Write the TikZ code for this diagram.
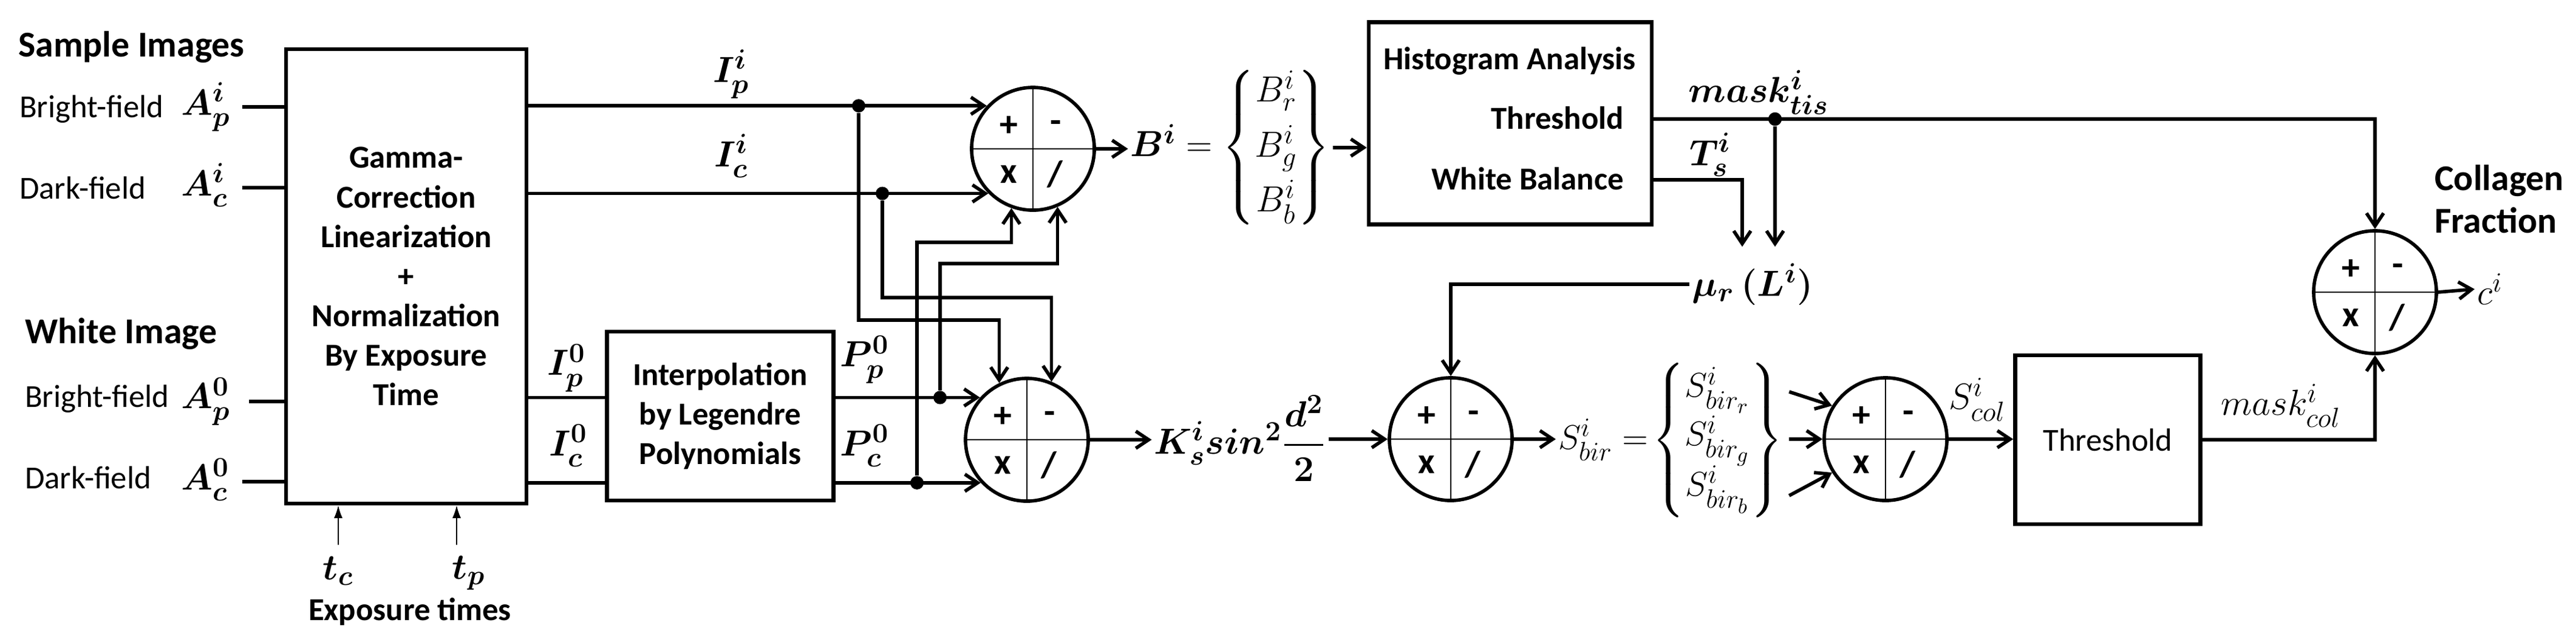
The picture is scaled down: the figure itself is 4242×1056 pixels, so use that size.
\RequirePackage{fix-cm}
\documentclass[tikz,border=0pt]{standalone}
\usepackage{amsmath}
\usepackage{fontspec}
\setmainfont{Carlito}
\DeclareMathSizes{17}{17}{13}{10}
\DeclareMathSizes{16}{16}{12.5}{10}
\usetikzlibrary{arrows.meta,calc}
\newcommand{\opcirc}[2]{%
  \node[opc] (#1) at (#2) {};
  \draw[divl] (#1.north) -- (#1.south) (#1.west) -- (#1.east);
  \node[opl] (#1p) at ([shift={(-40,-37)}]#1) {+};
  \node[opl] (#1m) at ([shift={(38,-37)}]#1) {-};
  \node[opl] (#1x) at ([shift={(-40,42)}]#1) {x};
  \node[opl] (#1d) at ([shift={(36,42)}]#1) {/};
}
\begin{document}
\begin{tikzpicture}[x=0.01cm,y=-0.01cm,
  box/.style={draw, line width=1.8pt, inner sep=0pt, align=center,
    font=\fontsize{15}{18.5}\selectfont\bfseries},
  opc/.style={circle, draw, line width=1.6pt, minimum size=2.02cm, inner sep=0pt},
  divl/.style={line width=0.5pt},
  opl/.style={inner sep=0pt, font=\fontsize{17}{17}\selectfont\bfseries},
  ln/.style={line width=1.6pt},
  arr/.style={ln, -{Straight Barb[length=6pt,width=8pt]}},
  tarr/.style={line width=0.6pt, -{Latex[length=6pt,width=4pt]}},
  dotn/.style={circle, fill, inner sep=0pt, minimum size=0.22cm},
  lbl/.style={inner sep=1pt, font=\fontsize{15}{18}\selectfont},
  blbl/.style={inner sep=1pt, font=\fontsize{15}{18}\selectfont\bfseries},
  ttl/.style={inner sep=1pt, font=\fontsize{17}{20}\selectfont\bfseries},
  mth/.style={inner sep=1pt, font=\fontsize{17}{20}\selectfont\boldmath},
  mthr/.style={inner sep=1pt, font=\fontsize{17}{20}\selectfont}
]
\useasboundingbox (0,0) rectangle (4242,1056);

% left labels
\node[ttl, anchor=west] (si) at (26,78) {Sample Images};
\node[lbl, anchor=west] (bf1) at (28,180) {Bright-field};
\node[mth, anchor=west] (ap1) at (294,176) {$A_p^i$};
\node[lbl, anchor=west] (df1) at (28,309) {Dark-field};
\node[mth, anchor=west] (ac1) at (294,305) {$A_c^i$};
\node[ttl, anchor=west] (wi) at (37,550) {White Image};
\node[lbl, anchor=west] (bf0) at (37,657) {Bright-field};
\node[mth, anchor=west] (ap0) at (294,661) {$A_p^0$};
\node[lbl, anchor=west] (df0) at (37,786) {Dark-field};
\node[mth, anchor=west] (ac0) at (294,790) {$A_c^0$};

% main box
\node[box, minimum width=3.96cm, minimum height=7.47cm] (gam) at (669,455)
  {Gamma-\\Correction\\Linearization\\+\\Normalization\\By Exposure\\Time};

\coordinate (in1) at (399,176);
\coordinate (in2) at (399,309);
\coordinate (in3) at (410,661);
\coordinate (in4) at (399,793);
\draw[ln] (in1) -- (in1 -| gam.west);
\draw[ln] (in2) -- (in2 -| gam.west);
\draw[ln] (in3) -- (in3 -| gam.west);
\draw[ln] (in4) -- (in4 -| gam.west);

% exposure times
\node[mth] (tc) at (557,940) {$t_c$};
\node[mth] (tp) at (772,943) {$t_p$};
\node[blbl] (et) at (675,1007) {Exposure times};
\coordinate (tcs) at (557,897);
\coordinate (tps) at (752,897);
\draw[tarr] (tcs) -- (tcs |- gam.south);
\draw[tarr] (tps) -- (tps |- gam.south);

% operator circles
\opcirc{c1}{1701,245}
\opcirc{c2}{1691,724}
\opcirc{c3}{2389,723}
\opcirc{c4}{3105,723}
\opcirc{c5}{3911,481}

% interpolation box
\node[box, minimum width=3.73cm, minimum height=2.78cm] (itp) at (1186,685)
  {Interpolation\\by Legendre\\Polynomials};

% I lines
\draw[arr] (gam.east |- c1.137) -- (c1.137);
\draw[arr] (gam.east |- c1.-135) -- (c1.-135);
\node[mth] (lip) at (1204,122) {$I_p^i$};
\node[mth] (lic) at (1204,257) {$I_c^i$};
\draw[ln] (gam.east |- c2.138) -- (itp.west |- c2.138);
\draw[ln] (gam.east |- c2.-137) -- (itp.west |- c2.-137);
\node[mth] (lip0) at (933,606) {$I_p^0$};
\node[mth] (lic0) at (936,734) {$I_c^0$};
\draw[arr] (itp.east |- c2.138) -- (c2.138);
\draw[arr] (itp.east |- c2.-137) -- (c2.-137);
\node[mth] (lpp0) at (1424,592) {$P_p^0$};
\node[mth] (lpc0) at (1424,734) {$P_c^0$};

% junction dots
\node[dotn] (d1) at (1414,0 |- c1.137) {};
\node[dotn] (d2) at (1453,0 |- c1.-135) {};
\node[dotn] (d3) at (1548,0 |- c2.138) {};
\node[dotn] (d4) at (1510,0 |- c2.-137) {};
\draw[arr] (d1) -- (1414,527) -| (c2.116);
\draw[arr] (d2) -- (1453,490) -| (c2.67);
\draw[arr] (d3) -- (1548,434) -| (c1.-67);
\draw[arr] (d4) -- (1510,399) -| (c1.-110);

% B node and histogram box
\node[mthr] (bn) at (2026,243)
  {$\boldsymbol{B^i} = \left\{\begin{matrix}B_r^i\\[5pt]B_g^i\\[5pt]B_b^i\end{matrix}\right\}$};
\draw[arr] (c1.east) -- (bn.west |- c1.east);
\node[box, minimum width=4.66cm, minimum height=3.33cm] (hist) at (2487,203) {};
\draw[arr] (bn.east) -- (hist.west |- bn.east);
\node[blbl] (h1) at (2486,100) {Histogram Analysis};
\node[blbl, anchor=east] (h2) at (2678,194) {Threshold};
\node[blbl, anchor=east] (h3) at (2678,294) {White Balance};

% mask tis, T_s, mu
\node[dotn] (d5) at (2923,196) {};
\node[mth] (lmt) at (2896,152) {$mask_{tis}^i$};
\node[mth] (lts) at (2816,255) {$T_s^i$};
\node[mth, minimum height=1.22cm] (mu) at (2886,468) {$\mu_r\,(L^i)$};
\draw[arr] (hist.east |- d5) -| (c5.north);
\node[dotn] at (d5) {};
\draw[arr] (d5) -- (d5 |- mu.north);
\draw[arr] (hist.east |- 0,296) -| (2869,0 |- mu.north);
\draw[arr] (mu.west) -| (c3.north);

% K node
\node[mth] (kn) at (2042,722) {$K_s^i sin^2\dfrac{d^2}{2}$};
\draw[arr] (c2.east) -- (kn.west |- c2.east);
\draw[arr] (kn.east |- c3.west) -- (c3.west);

% S node
\node[mthr, anchor=west, font=\fontsize{16}{19}\selectfont] (sn) at (2562,725)
  {$S^i_{bir} =\! \left\{\begin{matrix}S^i_{bir_r}\\[3pt]S^i_{bir_g}\\[3pt]S^i_{bir_b}\end{matrix}\right\}$};
\draw[arr] (c3.east) -- (sn.west |- c3.east);
\coordinate (sr) at ($(sn.east |- 0,645)+(6,0)$);
\coordinate (sg) at ($(sn.east |- 0,723)+(6,0)$);
\coordinate (sb) at ($(sn.east |- 0,816)+(6,0)$);
\draw[arr] (sr) -- (c4.148);
\draw[arr] (sg) -- (c4.west);
\draw[arr] (sb) -- (c4.-148);

% threshold box
\node[box, minimum width=3.05cm, minimum height=2.78cm,
  font=\fontsize{15}{18}\selectfont] (thr) at (3471,724) {Threshold};
\draw[arr] (c4.east) -- (thr.west |- c4.east);
\node[mthr] (lsc) at (3256,658) {$S^i_{col}$};
\draw[arr] (thr.east) -| (c5.south);
\node[mthr] (lmc) at (3756,668) {$mask^i_{col}$};

% output
\node[mthr, anchor=west] (ci) at (4075,476) {$c^i$};
\draw[arr] (c5.east) -- (ci.west);
\node[ttl, align=left, anchor=west] (cf) at (4005,328) {Collagen\\Fraction};
\end{tikzpicture}
\end{document}
